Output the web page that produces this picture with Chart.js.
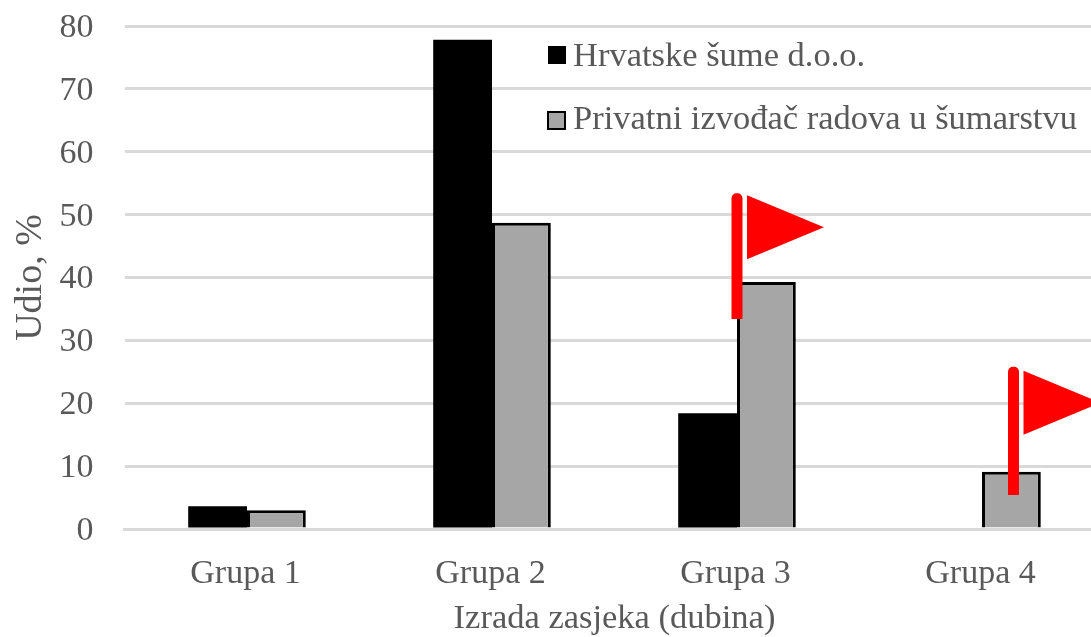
<!DOCTYPE html>
<html><head><meta charset="utf-8">
<style>html,body{margin:0;padding:0;background:#fff;overflow:hidden}#w{position:relative;width:1091px;height:637px;overflow:hidden}canvas{display:block}</style>
<script src="https://cdn.jsdelivr.net/npm/chart.js@4"></script></head>
<body><div id="w"><canvas id="c" width="1110" height="637" style="width:1110px;height:637px"></canvas></div>
<script>
const categories=["Grupa 1","Grupa 2","Grupa 3","Grupa 4"];
const hrvatskeSume=[3.6,77.8,18.4,0];
const privatni=[3,48.7,39.3,9.1];
const seriesNames=["Hrvatske šume d.o.o.","Privatni izvođač radova u šumarstvu"];
const yTicks=[0,10,20,30,40,50,60,70,80];
const xTitle="Izrada zasjeka (dubina)";
const yTitle="Udio, %";
const flagCategory=[2,3];
const flagBase=[33.4,5.4];
const flagTop=[53.4,25.8];
const font="'Liberation Serif'";
const textCol="#595959";
const flagPlugin={id:'flags',afterDatasetsDraw(ch){
 const g=ch.ctx,y=ch.scales.y,m=ch.getDatasetMeta(1);
 flagCategory.forEach((c,k)=>{
  const bar=m.data[c];
  const px=bar.x-bar.width/2+(k==1?31.5:0), yb=y.getPixelForValue(flagBase[k]), yt=y.getPixelForValue(flagTop[k]);
  g.save();g.fillStyle='#ff0000';
  g.beginPath();g.roundRect(px-5.5,yt,11,yb-yt,[5,5,0,0]);g.fill();
  const fx=px+10,top=yt+(k==0?2:4);
  g.beginPath();g.moveTo(fx,top);g.lineTo(fx+77,top+32);g.lineTo(fx,top+64);g.closePath();g.fill();
  g.restore();
 });
}};
const legendPlugin={id:'leg',afterDraw(ch){
 const g=ch.ctx;g.save();
 g.font="34.5px "+font;g.textBaseline='middle';
 g.fillStyle='#000';g.fillRect(548,46,18,18);
 g.fillStyle='#a6a6a6';g.strokeStyle='#000';g.lineWidth=2;g.fillRect(548,112,17,17);g.strokeRect(548,112,17,17);
 g.fillStyle=textCol;
 g.fillText(seriesNames[0],573,57);
 g.fillText(seriesNames[1],573,120);
 g.restore();
}};
new Chart(document.getElementById('c'),{type:'bar',
 data:{labels:categories,datasets:[
  {label:seriesNames[0],data:hrvatskeSume,backgroundColor:'#000',borderWidth:0,categoryPercentage:0.48,barPercentage:1},
  {label:seriesNames[1],data:privatni,backgroundColor:'#a6a6a6',borderColor:'#000',borderWidth:3,categoryPercentage:0.48,barPercentage:1}]},
 options:{responsive:false,animation:false,
  layout:{padding:{left:0,right:5.5,top:26,bottom:0}},
  plugins:{legend:{display:false},tooltip:{enabled:false}},
  scales:{
   x:{afterFit(a){a.height=108;a.paddingLeft=0;a.paddingRight=0},grid:{display:false},border:{color:'#d9d9d9',width:3},ticks:{color:textCol,font:{family:font,size:34},padding:17,labelOffset:-1.5,maxRotation:0},
      title:{display:true,text:xTitle,color:textCol,font:{family:font,size:34.5},padding:{top:0,bottom:-3}}},
   y:{afterFit(a){a.width=124.5;a.paddingTop=0;a.paddingBottom=0},min:0,max:80,afterBuildTicks(a){a.ticks=yTicks.map(v=>({value:v}))},grid:{color:'#d9d9d9',lineWidth:3,drawTicks:false},border:{display:false},
      ticks:{color:textCol,font:{family:font,size:34},padding:31,labelOffset:2},
      title:{display:true,text:yTitle,color:textCol,font:{family:font,size:38},padding:{top:8,bottom:0}}}
  }},
 plugins:[flagPlugin,legendPlugin]});
</script></body></html>
